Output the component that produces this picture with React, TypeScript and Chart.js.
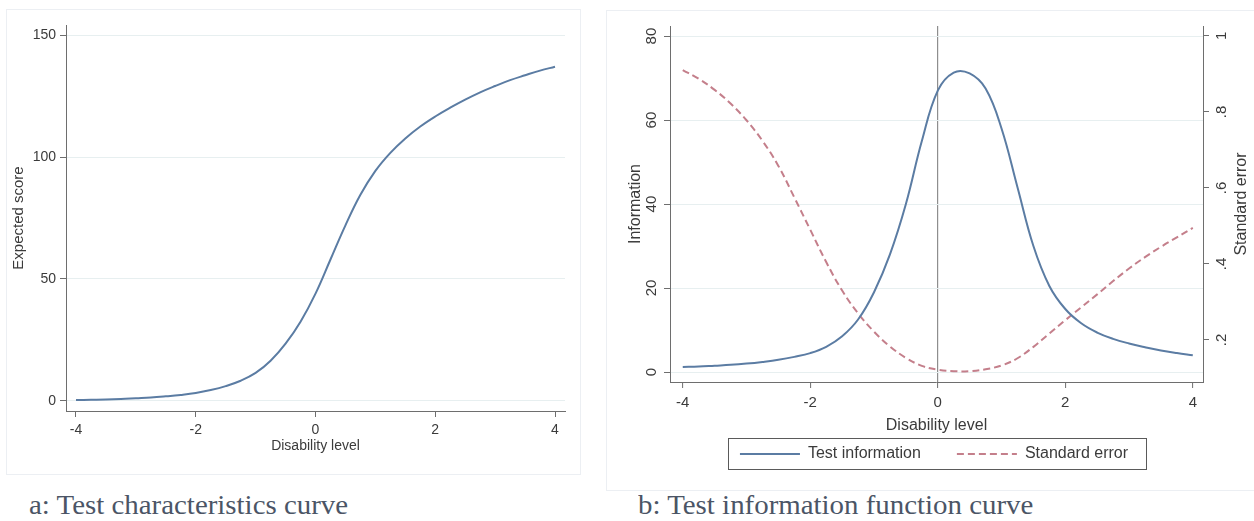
import React, { useEffect, useRef } from 'react';
import { Chart, registerables } from 'chart.js';

Chart.register(...registerables);

// ---- data ----
const abilityLevels = [
  -4, -3.75, -3.5, -3.25, -3, -2.75, -2.5, -2.25, -2, -1.75, -1.5, -1.25, -1, -0.75, -0.5, -0.25,
  0, 0.25, 0.5, 0.75, 1, 1.25, 1.5, 1.75, 2, 2.25, 2.5, 2.75, 3, 3.25, 3.5, 3.75, 4,
];
const expectedScore = [
  0.4, 0.5, 0.6, 0.8, 1.1, 1.4, 1.9, 2.5, 3.3, 4.5, 6.1, 8.3, 11.5, 16.5, 23.5, 32.5,
  44, 58, 72, 84.5, 94.3, 101.7, 107.6, 112.5, 116.6, 120.2, 123.5, 126.5, 129.1, 131.5, 133.5, 135.4, 137,
];
const testInformation = [
  1.2, 1.3, 1.5, 1.7, 2.0, 2.4, 2.9, 3.6, 4.5, 6.0, 8.5, 12.5, 19, 28, 40, 55,
  67, 71.3, 71.1, 67.5, 58, 44, 30, 20.5, 15, 11.6, 9.4, 7.9, 6.8, 5.9, 5.1, 4.5, 4.0,
];
const standardError = [
  0.91, 0.887, 0.858, 0.822, 0.778, 0.724, 0.658, 0.575, 0.49, 0.405, 0.33, 0.27, 0.222, 0.183, 0.153, 0.132,
  0.122, 0.118, 0.118, 0.123, 0.133, 0.152, 0.182, 0.217, 0.252, 0.286, 0.32, 0.355, 0.388, 0.418, 0.445, 0.47, 0.495,
];
const xTicks = [-4, -2, 0, 2, 4];
const scoreTicks = [0, 50, 100, 150];
const infoTicks = [0, 20, 40, 60, 80];
const seTicks = [0.2, 0.4, 0.6, 0.8, 1];
const seTickLabels = ['.2', '.4', '.6', '.8', '1'];

const captionA = 'a: Test characteristics curve';
const captionB = 'b: Test information function curve';

// ---- styles ----
const FONT = "'Liberation Sans', Arial, sans-serif";
const TEXT = '#3b3b3b';
const AXIS = '#6e6e6e';
const GRID = '#e7eff0';
const BLUE = '#5b7ca3';
const RED = '#c47f8b';

const setTicks = (vals: number[]) => (s: any) => {
  s.ticks = vals.map((v) => ({ value: v }));
};

const legendBoxPlugin = {
  id: 'legendBox',
  afterDraw(chart: any) {
    const lg = chart.legend;
    if (!lg || !lg.legendHitBoxes || lg.legendHitBoxes.length === 0) return;
    const hb = lg.legendHitBoxes;
    const first = hb[0];
    const last = hb[hb.length - 1];
    const ctx = chart.ctx;
    ctx.save();
    ctx.strokeStyle = '#5a5a5a';
    ctx.lineWidth = 1;
    const l = Math.round(first.left - 12) + 0.5;
    const r = Math.round(last.left + last.width + 18) + 0.5;
    const t = Math.round(first.top - 8) + 0.5;
    const b = Math.round(first.top + first.height + 7) + 0.5;
    ctx.strokeRect(l, t, r - l, b - t);
    ctx.restore();
  },
};

const rightTitlePlugin = {
  id: 'rightTitle',
  afterDraw(chart: any) {
    const s = chart.scales.y1;
    if (!s) return;
    const ctx = chart.ctx;
    ctx.save();
    ctx.translate(s.right - 12, (s.top + s.bottom) / 2);
    ctx.rotate(-Math.PI / 2);
    ctx.font = `16px ${FONT}`;
    ctx.fillStyle = TEXT;
    ctx.textAlign = 'center';
    ctx.textBaseline = 'middle';
    ctx.fillText('Standard error', 0, 0);
    ctx.restore();
  },
};

function LeftChart() {
  const ref = useRef<HTMLCanvasElement>(null);
  useEffect(() => {
    if (!ref.current) return;
    const chart = new Chart(ref.current, {
      type: 'line',
      data: {
        datasets: [
          {
            label: 'Expected score',
            data: abilityLevels.map((x, i) => ({ x, y: expectedScore[i] })),
            borderColor: BLUE,
            borderWidth: 2,
            pointRadius: 0,
            tension: 0.4,
            fill: false,
          },
        ],
      },
      options: {
        animation: false,
        responsive: false,
        maintainAspectRatio: false,
        layout: { padding: { left: 0, right: 35, top: 25, bottom: 24 } },
        plugins: { legend: { display: false }, tooltip: { enabled: false } },
        scales: {
          x: {
            type: 'linear',
            min: -4.167,
            max: 4.167,
            afterBuildTicks: setTicks(xTicks),
            afterFit: (s: any) => {
              s.height = 45;
            },
            grid: { drawOnChartArea: false, tickLength: 6, tickColor: AXIS, tickWidth: 1 },
            border: { color: AXIS, width: 1 },
            ticks: { font: { family: FONT, size: 14 }, color: TEXT, padding: 5, maxRotation: 0, autoSkip: false },
            title: {
              display: true,
              text: 'Disability level',
              font: { family: FONT, size: 14 },
              color: TEXT,
              padding: { top: 0, bottom: 1 },
            },
          },
          y: {
            type: 'linear',
            min: -4.1,
            max: 154.1,
            afterBuildTicks: setTicks(scoreTicks),
            afterFit: (s: any) => {
              s.width = 66;
            },
            grid: { color: GRID, tickLength: 6, tickColor: AXIS, tickWidth: 1 },
            border: { color: AXIS, width: 1 },
            ticks: { font: { family: FONT, size: 14 }, color: TEXT, padding: 4, autoSkip: false },
            title: {
              display: true,
              text: 'Expected score',
              font: { family: FONT, size: 15 },
              color: TEXT,
              padding: { top: 10, bottom: 0 },
            },
          },
        },
      },
    } as any);
    return () => chart.destroy();
  }, []);
  return (
    <canvas
      ref={ref}
      width={600}
      height={480}
      style={{ position: 'absolute', left: 0, top: 0, width: 600, height: 480, display: 'block' }}
    />
  );
}

function RightChart() {
  const ref = useRef<HTMLCanvasElement>(null);
  useEffect(() => {
    if (!ref.current) return;
    const baseGenerate = (Chart as any).defaults.plugins.legend.labels.generateLabels;
    const chart = new Chart(ref.current, {
      type: 'line',
      data: {
        datasets: [
          {
            label: 'Test information',
            data: abilityLevels.map((x, i) => ({ x, y: testInformation[i] })),
            borderColor: BLUE,
            backgroundColor: BLUE,
            borderWidth: 2,
            pointRadius: 0,
            tension: 0.4,
            fill: false,
            yAxisID: 'y',
          },
          {
            label: 'Standard error',
            data: abilityLevels.map((x, i) => ({ x, y: standardError[i] })),
            borderColor: RED,
            backgroundColor: RED,
            borderWidth: 2,
            borderDash: [7, 4],
            pointRadius: 0,
            tension: 0.4,
            fill: false,
            yAxisID: 'y1',
          },
        ],
      },
      options: {
        animation: false,
        responsive: false,
        maintainAspectRatio: false,
        layout: { padding: { left: 0, right: 0, top: 26, bottom: 8 } },
        plugins: {
          tooltip: { enabled: false },
          legend: {
            display: true,
            position: 'bottom',
            labels: {
              usePointStyle: true,
              pointStyle: 'line',
              pointStyleWidth: 60,
              boxWidth: 60,
              padding: 36,
              color: TEXT,
              font: { family: FONT, size: 16 },
              generateLabels: (ch: any) =>
                baseGenerate(ch).map((item: any) => {
                  const ds = ch.data.datasets[item.datasetIndex];
                  return {
                    ...item,
                    strokeStyle: ds.borderColor,
                    fillStyle: ds.borderColor,
                    lineWidth: 2,
                    lineDash: ds.borderDash || [],
                  };
                }),
            },
          },
        },
        scales: {
          x: {
            type: 'linear',
            min: -4.2,
            max: 4.16,
            afterBuildTicks: setTicks(xTicks),
            afterFit: (s: any) => {
              s.height = 28;
            },
            grid: {
              drawOnChartArea: true,
              color: (c: any) => (c.tick && c.tick.value === 0 ? '#8e8e8e' : 'rgba(0,0,0,0)'),
              lineWidth: 1.2,
              tickLength: 6,
              tickColor: AXIS,
              tickWidth: 1,
            },
            border: { color: AXIS, width: 1 },
            ticks: { font: { family: FONT, size: 15 }, color: TEXT, padding: 6, maxRotation: 0, autoSkip: false },
            title: {
              display: true,
              text: 'Disability level',
              font: { family: FONT, size: 16 },
              color: TEXT,
              padding: { top: 0, bottom: -25.6 },
            },
          },
          y: {
            type: 'linear',
            position: 'left',
            min: -2.38,
            max: 82.4,
            afterBuildTicks: setTicks(infoTicks),
            afterFit: (s: any) => {
              s.width = 56;
            },
            grid: { color: GRID, tickLength: 6, tickColor: AXIS, tickWidth: 1 },
            border: { color: AXIS, width: 1 },
            ticks: {
              font: { family: FONT, size: 15 },
              color: TEXT,
              padding: 4,
              minRotation: 90,
              maxRotation: 90,
              crossAlign: 'center',
              autoSkip: false,
            },
            title: {
              display: true,
              text: 'Information',
              font: { family: FONT, size: 16 },
              color: TEXT,
              padding: { top: 12.4, bottom: 0 },
            },
          },
          y1: {
            type: 'linear',
            position: 'right',
            min: 0.0895,
            max: 1.026,
            afterBuildTicks: setTicks(seTicks),
            afterFit: (s: any) => {
              s.width = 51;
            },
            grid: { drawOnChartArea: false, tickLength: 6, tickColor: AXIS, tickWidth: 1 },
            border: { color: AXIS, width: 1 },
            ticks: {
              font: { family: FONT, size: 15 },
              color: TEXT,
              padding: 7,
              minRotation: 90,
              maxRotation: 90,
              crossAlign: 'center',
              autoSkip: false,
              callback: (v: any) => {
                const i = seTicks.findIndex((t) => Math.abs(t - Number(v)) < 1e-9);
                return i >= 0 ? seTickLabels[i] : '';
              },
            },
            title: { display: false },
          },
        },
      },
      plugins: [legendBoxPlugin, rightTitlePlugin],
    } as any);
    return () => chart.destroy();
  }, []);
  return (
    <canvas
      ref={ref}
      width={640}
      height={480}
      style={{ position: 'absolute', left: 614, top: 0, width: 640, height: 480, display: 'block' }}
    />
  );
}

const captionStyle: React.CSSProperties = {
  position: 'absolute',
  top: 492,
  fontFamily: "'Liberation Serif', 'Times New Roman', serif",
  fontSize: 27,
  lineHeight: '27px',
  color: '#4b5566',
  whiteSpace: 'nowrap',
  transform: 'scaleX(1.07)',
  transformOrigin: 'left center',
};

export default function App() {
  return (
    <div
      style={{
        position: 'absolute',
        left: 0,
        top: 0,
        width: 1254,
        height: 521,
        background: '#ffffff',
        overflow: 'hidden',
      }}
    >
      <div
        style={{
          position: 'absolute',
          left: 6,
          top: 9,
          width: 575,
          height: 466,
          border: '1px solid #eceff3',
          boxSizing: 'border-box',
        }}
      />
      <div
        style={{
          position: 'absolute',
          left: 606,
          top: 10,
          width: 700,
          height: 481,
          border: '1px solid #eceff3',
          boxSizing: 'border-box',
        }}
      />
      <LeftChart />
      <RightChart />
      <div style={{ ...captionStyle, left: 29 }}>{captionA}</div>
      <div style={{ ...captionStyle, left: 638 }}>{captionB}</div>
    </div>
  );
}
